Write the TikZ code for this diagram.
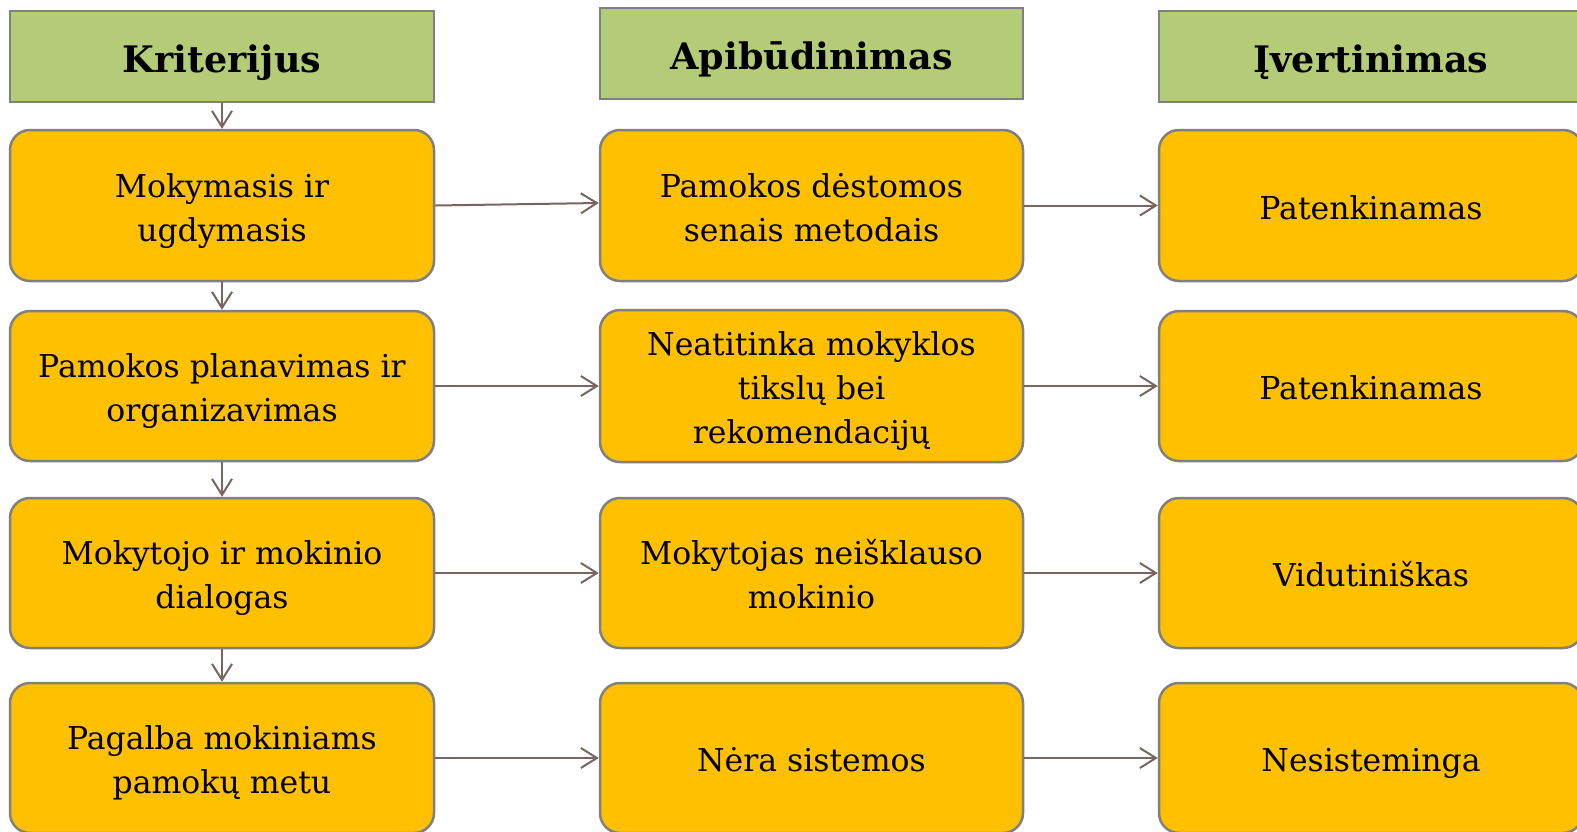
\documentclass[tikz,border=0pt]{standalone}
\usepackage{fontspec}
\setmainfont{DejaVu Serif}
\usetikzlibrary{arrows.meta}
\definecolor{hdrgreen}{HTML}{B4CC78}
\definecolor{boxorange}{HTML}{FFC000}
\definecolor{bordergray}{HTML}{808080}
\definecolor{arrowbrown}{HTML}{76665F}
\newcommand{\tx}[2][-5pt]{\raisebox{#1}[\height][\depth]{\begin{tabular}{@{}c@{}}#2\end{tabular}}}
\tikzset{
  hdr/.style={draw=bordergray, line width=2.5pt, fill=hdrgreen, rectangle,
    minimum width=424pt, minimum height=91pt, inner sep=0pt,
    font=\fontsize{36.5}{44}\selectfont\bfseries},
  item/.style={draw=bordergray, line width=2.5pt, fill=boxorange, rectangle,
    rounded corners=20pt, minimum width=424pt, minimum height=150pt, inner sep=0pt,
    font=\fontsize{31.5}{44}\selectfont},
  conn/.style={draw=arrowbrown, line width=2pt,
    -{Straight Barb[length=16pt,width=20pt,line width=2pt]}}
}
\begin{document}
\begin{tikzpicture}[x=1pt,y=-1pt]
\useasboundingbox (0,0) rectangle (1577,831);
\node[hdr] (h1) at (222,56.5) {\tx[-7pt]{Kriterijus}};
\node[hdr, minimum width=423pt] (h2) at (811.5,53.5) {\tx[-7pt]{Apibūdinimas}};
\node[hdr] (h3) at (1371,56.5) {\tx[-7pt]{Įvertinimas}};

\node[item, minimum height=151pt] (a1) at (222,205.5) {\tx{Mokymasis ir\\ugdymasis}};
\node[item] (a2) at (222,386) {\tx{Pamokos planavimas ir\\organizavimas}};
\node[item] (a3) at (222,573) {\tx{Mokytojo ir mokinio\\dialogas}};
\node[item] (a4) at (222,758) {\tx{Pagalba mokiniams\\pamokų metu}};

\node[item, minimum width=423pt, minimum height=151pt] (b1) at (811.5,205.5) {\tx{Pamokos dėstomos\\senais metodais}};
\node[item, minimum width=423pt, minimum height=152pt] (b2) at (811.5,386) {\tx{Neatitinka mokyklos\\tikslų bei\\rekomendacijų}};
\node[item, minimum width=423pt] (b3) at (811.5,573) {\tx{Mokytojas neišklauso\\mokinio}};
\node[item, minimum width=423pt] (b4) at (811.5,758) {\tx{Nėra sistemos}};

\node[item, minimum height=151pt] (c1) at (1371,205.5) {\tx{Patenkinamas}};
\node[item] (c2) at (1371,386) {\tx{Patenkinamas}};
\node[item] (c3) at (1371,573) {\tx{Vidutiniškas}};
\node[item] (c4) at (1371,758) {\tx{Nesisteminga}};

\draw[conn] (h1) -- (a1);
\draw[conn] (a1) -- (a2);
\draw[conn] (a2) -- (a3);
\draw[conn] (a3) -- (a4);

\draw[conn] (a1.east) -- ([yshift=2.5pt]b1.west);
\draw[conn] (a2) -- (b2);
\draw[conn] (a3) -- (b3);
\draw[conn] (a4) -- (b4);

\draw[conn] (b1) -- (c1);
\draw[conn] (b2) -- (c2);
\draw[conn] (b3) -- (c3);
\draw[conn] (b4) -- (c4);
\end{tikzpicture}
\end{document}
